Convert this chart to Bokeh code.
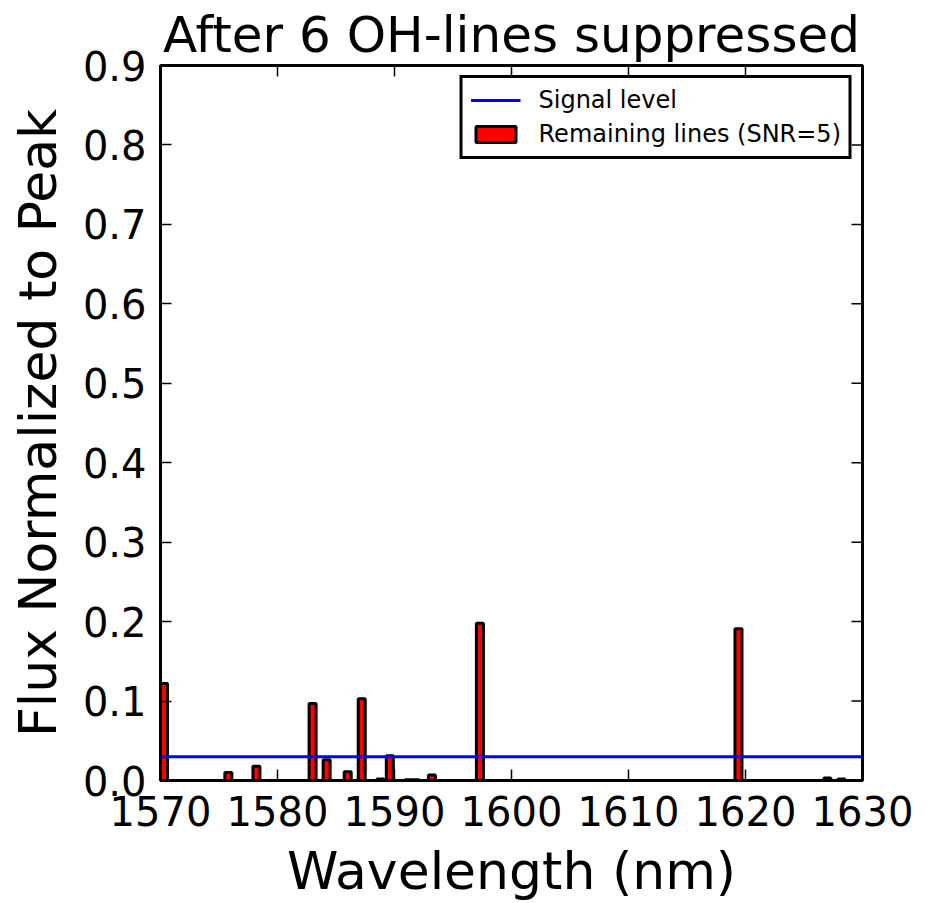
import math
from bokeh.plotting import figure
from bokeh.models import (Legend, LegendItem, FixedTicker,
                          Range1d, NumeralTickFormatter)
from bokeh.embed import file_html
from bokeh.resources import INLINE

# ---- data ----
wavelengths = [1570.3, 1575.8, 1578.2, 1583.0, 1584.2, 1586.0, 1587.2, 1588.8,
               1589.6, 1591.2, 1591.8, 1593.2, 1597.3, 1619.4, 1627.0, 1628.2]
flux = [0.122, 0.010, 0.018, 0.097, 0.026, 0.011, 0.103, 0.002,
        0.031, 0.001, 0.001, 0.007, 0.198, 0.191, 0.003, 0.002]
signal_x = [1570, 1630]
signal_y = [0.03, 0.03]
x_ticks = [1570, 1580, 1590, 1600, 1610, 1620, 1630]
y_ticks = [0.0, 0.1, 0.2, 0.3, 0.4, 0.5, 0.6, 0.7, 0.8, 0.9]
x_min, x_max = 1570, 1630
y_min, y_max = 0.0, 0.9

FONT = "DejaVu Sans"

p = figure(width=928, height=903, output_backend="svg", toolbar_location=None,
           x_range=Range1d(x_min, x_max), y_range=Range1d(y_min, y_max),
           min_border_left=160, min_border_right=66,
           min_border_top=65, min_border_bottom=121,
           title="After 6 OH-lines suppressed")

p.background_fill_color = "white"
p.border_fill_color = "white"
p.grid.visible = False
p.outline_line_color = "black"
p.outline_line_width = 3

p.title.text_font = FONT
p.title.text_font_size = "50px"
p.title.text_font_style = "normal"
p.title.text_color = "black"
p.title.align = "center"
p.title.standoff = 4

bars = p.vbar(x=wavelengths, top=flux, width=0.6, bottom=0,
              fill_color="#ff0000", line_color="black", line_width=3)
sig = p.line(signal_x, signal_y, line_color="#0000ff", line_width=3)

# mirrored inward ticks on top and right edges (clipped to the frame)
p.scatter(x=x_ticks, y=[y_max] * len(x_ticks), marker="dash", size=22,
          angle=math.pi / 2, line_color="black", line_width=1.5)
p.scatter(x=[x_max] * len(y_ticks), y=y_ticks, marker="dash", size=22,
          line_color="black", line_width=1.5)


def style_axis(ax):
    ax.axis_line_width = 3
    ax.axis_line_color = "black"
    ax.major_tick_in = 11
    ax.major_tick_out = 0
    ax.minor_tick_in = 0
    ax.minor_tick_out = 0
    ax.major_tick_line_width = 1.5
    ax.major_tick_line_color = "black"
    ax.major_label_text_font = FONT
    ax.major_label_text_color = "black"
    ax.major_label_text_font_size = "40px"
    ax.axis_label_text_font = FONT
    ax.axis_label_text_font_size = "52px"
    ax.axis_label_text_font_style = "normal"
    ax.axis_label_text_color = "black"


xa = p.xaxis[0]
xa.ticker = FixedTicker(ticks=x_ticks)
style_axis(xa)
xa.major_label_standoff = 15
xa.axis_label = "Wavelength (nm)"
xa.axis_label_standoff = 12

ya = p.yaxis[0]
ya.ticker = FixedTicker(ticks=y_ticks)
ya.formatter = NumeralTickFormatter(format="0.0")
style_axis(ya)
ya.major_label_standoff = 14
ya.axis_label = "Flux Normalized to Peak"
ya.axis_label_standoff = 12

legend = Legend(items=[LegendItem(label="Signal level", renderers=[sig]),
                       LegendItem(label="Remaining lines (SNR=5)", renderers=[bars])],
                location="top_right")
legend.label_text_font = FONT
legend.label_text_font_size = "24px"
legend.label_text_color = "black"
legend.border_line_color = "black"
legend.border_line_alpha = 1
legend.border_line_width = 3
legend.background_fill_color = "white"
legend.background_fill_alpha = 1
legend.padding = 8
legend.spacing = 6
legend.glyph_width = 50
legend.glyph_height = 20
legend.label_standoff = 18
legend.margin = 10
p.add_layout(legend)

open("out.html", "w").write(file_html(p, INLINE))
